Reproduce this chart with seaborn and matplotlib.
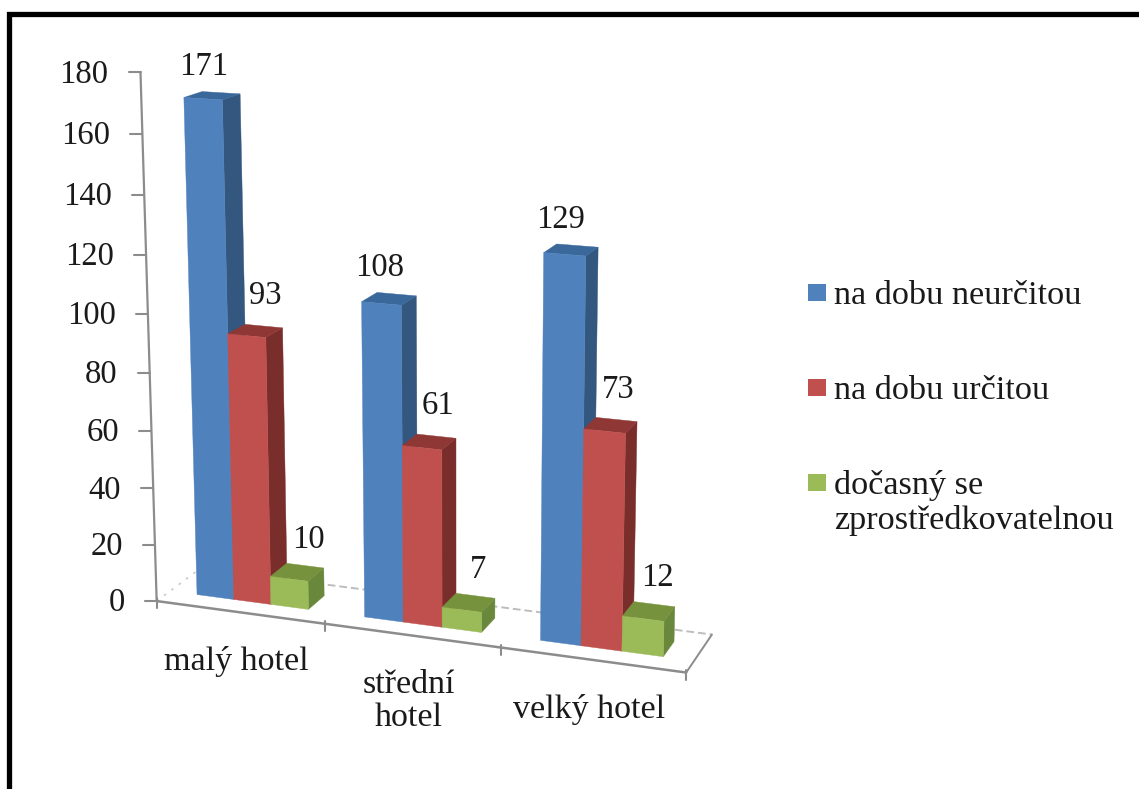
import numpy as np
import pandas as pd
import matplotlib
matplotlib.use("Agg")
import matplotlib.pyplot as plt
import seaborn as sns
from matplotlib.patches import Polygon, Rectangle

# datos del grafico
hotely = ["malý hotel", "střední\nhotel", "velký hotel"]
typy = ["na dobu neurčitou", "na dobu určitou", "dočasný se\nzprostředkovatelnou"]
neurcita = [171, 108, 129]
urcita = [93, 61, 73]
docasny = [10, 7, 12]
ticks_y = [0, 20, 40, 60, 80, 100, 120, 140, 160, 180]

barvy_front = ["#4F81BD", "#C0504D", "#9BBB59"]
barvy_side = ["#34577F", "#7A2E2C", "#6A883C"]
barvy_top = ["#3B689B", "#8E3735", "#76923C"]
barva_osa = "#8C8C8C"
barva_text = "#1A1A1A"

# ajuste de las etiquetas de valor segun la serie (pixeles)
nudge_x = [-17, 2, 3]
nudge_y = [-26, -30, -26]

SIRKA = 0.67
Z_FRONT, Z_BACK = 0.3, 0.7
X0, X1 = -0.5, 2.5

sns.set_theme(style="white")
plt.rcParams["font.family"] = ["Liberation Serif", "DejaVu Serif"]

df = pd.DataFrame({
    "hotel": hotely * 3,
    "typ": [t for t in typy for _ in hotely],
    "pocet": neurcita + urcita + docasny,
})

fig = plt.figure(figsize=(11.39, 7.89), dpi=100)
ax = fig.add_axes([0, 0, 1, 1])
sns.barplot(data=df, x="hotel", y="pocet", hue="typ", hue_order=typy, order=hotely,
            width=SIRKA, gap=0, palette=barvy_front, legend=False, ax=ax)

# camara: (x categoria, valor, profundidad) -> pixeles, ajustada con puntos
kal_svet = np.array([
    [X0, 0, 0], [0.5, 0, 0], [1.5, 0, 0], [X1, 0, 0],
    [X0, 0, 1], [X1, 0, 1], [X0, 180, 0], [X0, 140, 0], [X0, 100, 0], [X0, 40, 0],
    [-0.335, 171, Z_FRONT], [-0.335, 0, Z_FRONT], [0.665, 108, Z_FRONT],
    [1.665, 129, Z_FRONT], [1.665, 0, Z_FRONT], [2.335, 12, Z_FRONT], [2.335, 0, Z_FRONT],
    [1.888, 73, Z_FRONT], [0.335, 10, Z_BACK], [-0.112, 171, Z_BACK],
])
kal_px = np.array([
    [158, 603], [324, 626], [500, 648], [685, 673],
    [200, 568], [713, 634], [141, 73], [144, 193], [147, 313], [154, 485],
    [183, 99], [198, 595], [362, 302],
    [546, 252], [541, 639], [663, 622], [663, 656],
    [584, 429], [323, 568], [239, 95],
])


def fit_camera(svet, px):
    filas = []
    for (x, v, z), (u, w) in zip(svet, px):
        filas.append([x, v, z, 1, 0, 0, 0, 0, -u * x, -u * v, -u * z, -u])
        filas.append([0, 0, 0, 0, x, v, z, 1, -w * x, -w * v, -w * z, -w])
    _, _, vt = np.linalg.svd(np.array(filas))
    return vt[-1].reshape(3, 4)


P = fit_camera(kal_svet, kal_px)


def proj(x, v, z):
    a = P @ np.array([x, v, z, 1.0])
    return a[0] / a[2], a[1] / a[2]


# leemos las barras que hizo seaborn
barras = []
for i_typ, cont in enumerate(ax.containers):
    for bar in cont:
        barras.append((bar.get_x(), bar.get_width(), bar.get_height(), i_typ))
barras.sort(key=lambda b: b[0])
ax.set_visible(False)

c = fig.add_axes([0, 0, 1, 1])
c.set_xlim(0, 1139)
c.set_ylim(789, 0)
c.axis("off")

# marco negro
c.plot([8.5, 8.5, 1139], [789, 13.5, 13.5], color="black", lw=3.8, solid_joinstyle="miter")

# suelo y ejes
c.plot(*zip(proj(X0, 0, 0), proj(X0, 0, 1)), color="#C8C8C8", lw=1.2, ls=(0, (1.5, 4)), zorder=1)
c.plot(*zip(proj(X0, 0, 1), proj(X1, 0, 1)), color="#BDBDBD", lw=1.4, ls=(0, (4, 2)), zorder=1)
c.plot(*zip(proj(X1, 0, 0), proj(X1, 0, 1)), color=barva_osa, lw=1.4, zorder=1)
c.plot(*zip(proj(X0, 0, 0), proj(X1, 0, 0)), color=barva_osa, lw=1.8, zorder=1)
c.plot(*zip(proj(X0, 0, 0), proj(X0, 180, 0)), color=barva_osa, lw=1.6, zorder=1)
for t in ticks_y:
    u, w = proj(X0, t, 0)
    c.plot([u - 12, u], [w, w], color=barva_osa, lw=1.5, zorder=1)
    c.text(u - 32, w + 2, str(t), ha="right", va="center", fontsize=23.5, color=barva_text)
for i in range(4):
    u, w = proj(X0 + i, 0, 0)
    c.plot([u, u], [w - 3, w + 7], color=barva_osa, lw=1.5, zorder=1)
for i, nombre in enumerate(hotely):
    u, w = proj(i, 0, 0)
    c.text(u - 3, w + 34, nombre, ha="center", va="top", fontsize=24.5, color=barva_text,
           linespacing=1.1)

# barras en 3D: lado, tapa, frente
for zo, (x, ancho, alto, i_typ) in enumerate(barras):
    x2 = x + ancho
    lado = [proj(x2, 0, Z_FRONT), proj(x2, alto, Z_FRONT), proj(x2, alto, Z_BACK), proj(x2, 0, Z_BACK)]
    tapa = [proj(x, alto, Z_FRONT), proj(x2, alto, Z_FRONT), proj(x2, alto, Z_BACK), proj(x, alto, Z_BACK)]
    frente = [proj(x, 0, Z_FRONT), proj(x2, 0, Z_FRONT), proj(x2, alto, Z_FRONT), proj(x, alto, Z_FRONT)]
    for cara, col in ((lado, barvy_side), (tapa, barvy_top), (frente, barvy_front)):
        c.add_patch(Polygon(cara, closed=True, facecolor=col[i_typ], edgecolor=col[i_typ],
                            lw=0.3, zorder=3 + zo))
    u, w = proj(x + ancho / 2, alto, Z_BACK)
    c.text(u + nudge_x[i_typ], w + nudge_y[i_typ], str(int(alto)), ha="center", va="center",
           fontsize=23.5, color=barva_text, zorder=30)

# leyenda
for col, y, nombre in zip(barvy_front, [292, 387, 482], typy):
    c.add_patch(Rectangle((808, y - 8), 18, 17, facecolor=col, edgecolor="none"))
    c.text(834, y - 12, nombre, ha="left", va="top", fontsize=24.7, color=barva_text, linespacing=1.15)

fig.savefig("out.png", dpi=100)
